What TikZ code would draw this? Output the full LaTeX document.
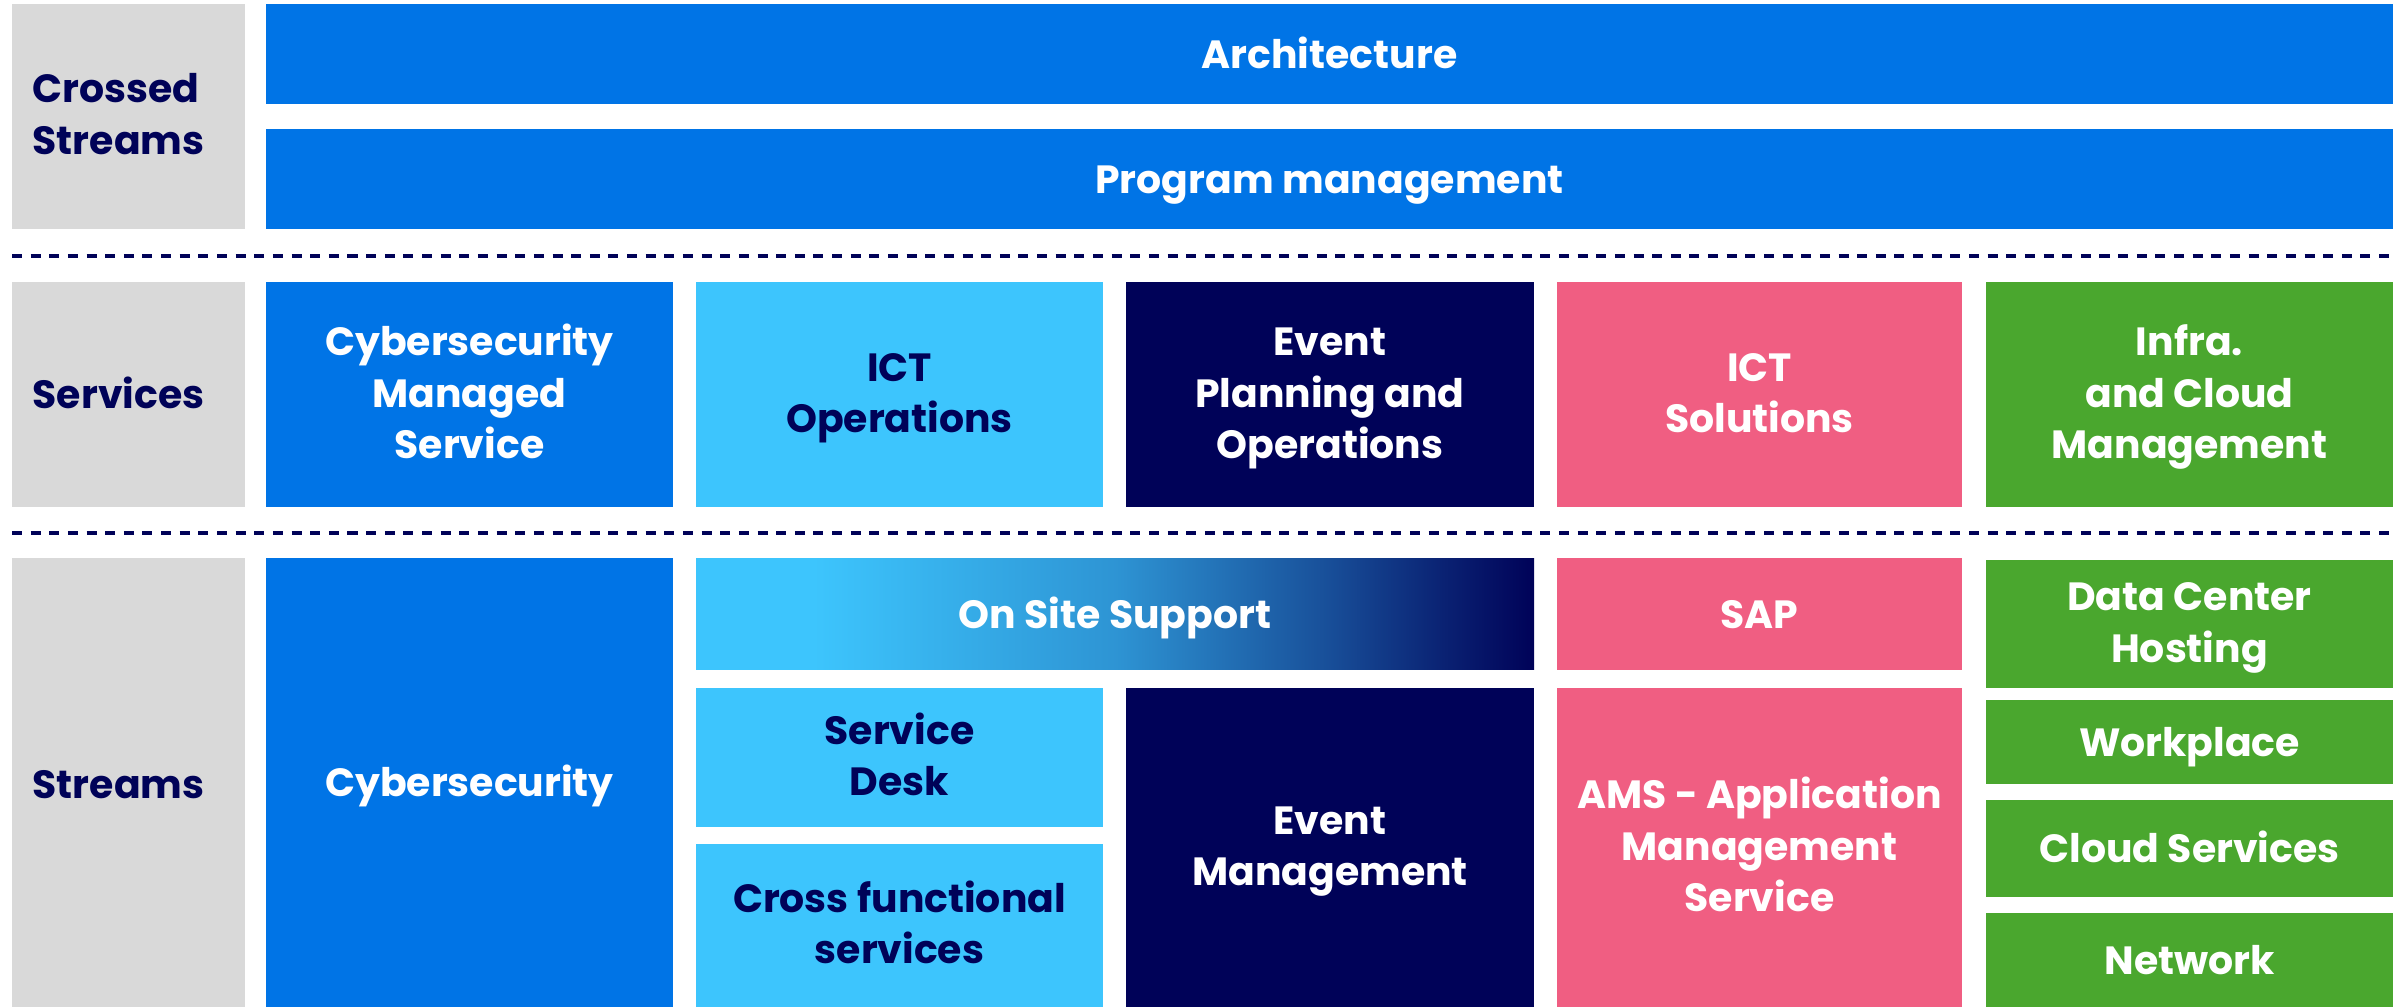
\documentclass[tikz,border=0pt]{standalone}
\usepackage{fontspec}
\setmainfont{Poppins}
\definecolor{cblue}{RGB}{0,116,230}
\definecolor{clight}{RGB}{61,197,253}
\definecolor{cnavy}{RGB}{0,2,88}
\definecolor{cpink}{RGB}{240,94,130}
\definecolor{cgreen}{RGB}{74,167,46}
\definecolor{cgray}{RGB}{217,217,217}
\colorlet{gmidA}{clight!75!cnavy}
\colorlet{gmidB}{clight!40!cnavy}
\colorlet{gmidC}{clight!15!cnavy}
\pgfdeclarehorizontalshading{ossgrad}{100bp}{color(0bp)=(clight); color(25bp)=(clight); color(32bp)=(clight); color(50bp)=(gmidA); color(62.5bp)=(gmidB); color(70bp)=(gmidC); color(75bp)=(cnavy); color(100bp)=(cnavy)}
\newcommand\mystrut{\rule[-0.34em]{0pt}{\dimexpr1.34em+0.6pt\relax}}
\newcommand\firstlinestrut{\rule[-0.34em]{0pt}{1.32em}}
\newcommand\lastlinestrut{\rule[-0.34em]{0pt}{1.34em}}
\newcommand\blk[7]{\node[tile,#6,minimum width={(#4-#2)*0.01cm},minimum height={(#5-#3)*0.01cm}] (#1) at ({(#2+#4)/2},{(#3+#5)/2}) {#7};}
\begin{document}
\begin{tikzpicture}[x=0.01cm,y=-0.01cm,
  tile/.style={inner sep=0pt,outer sep=0pt,draw=none,align=center,
    font=\fontsize{11.2}{14.6}\selectfont\bfseries,
    execute at begin node=\mystrut,execute at end node=\lastlinestrut},
  wt/.style={text=white},
  nt/.style={text=cnavy},
  lab/.style={anchor=west,align=left,inner sep=0pt,text=cnavy,
    font=\fontsize{11.2}{14.6}\selectfont\bfseries,
    execute at begin node=\mystrut,execute at end node=\lastlinestrut},
  sep/.style={draw=cnavy,line width=1pt,dash pattern=on 2.85pt off 2.45pt}]
\useasboundingbox (0,0) rectangle (2405,1007);
% gray label columns
\blk{g1}{12}{4}{245}{229}{fill=cgray}{}
\blk{g2}{12}{282}{245}{507}{fill=cgray}{}
\blk{g3}{12}{558}{245}{1007}{fill=cgray}{}
\node[lab] (l1) at (32,116) {\firstlinestrut Crossed\\Streams};
\node[lab] (l2) at (32,394) {Services};
\node[lab] (l3) at (32,784) {Streams};
% crossed streams
\blk{arch}{266}{4}{2393}{104}{fill=cblue,wt}{Architecture}
\blk{prog}{266}{129}{2393}{229}{fill=cblue,wt}{Program management}
% separators
\coordinate (s1a) at (12,256); \coordinate (s1b) at (2393,256);
\coordinate (s2a) at (12,533); \coordinate (s2b) at (2393,533);
\draw[sep] (s1a) -- (s1b);
\draw[sep] (s2a) -- (s2b);
% services
\blk{sv1}{266}{282}{673}{507}{fill=cblue,wt}{\firstlinestrut Cybersecurity\\Managed\\Service}
\blk{sv2}{696}{282}{1103}{507}{fill=clight,nt}{\firstlinestrut ICT\\Operations}
\blk{sv3}{1126}{282}{1534}{507}{fill=cnavy,wt}{\firstlinestrut Event\\Planning and\\Operations}
\blk{sv4}{1557}{282}{1962}{507}{fill=cpink,wt}{\firstlinestrut ICT\\Solutions}
\blk{sv5}{1986}{282}{2393}{507}{fill=cgreen,wt}{\firstlinestrut Infra.\\and Cloud\\Management}
% streams
\blk{st1}{266}{558}{673}{1007}{fill=cblue,wt}{Cybersecurity}
\blk{oss}{696}{559}{1534}{670}{shading=ossgrad,wt}{On Site Support}
\blk{sdk}{696}{688}{1103}{827}{fill=clight,nt}{\firstlinestrut Service\\Desk}
\blk{cfs}{696}{844}{1103}{1007}{fill=clight,nt}{\firstlinestrut Cross functional\\services}
\blk{evm}{1126}{688}{1534}{1007}{fill=cnavy,wt}{\firstlinestrut Event\\Management}
\blk{sap}{1557}{558}{1962}{670}{fill=cpink,wt}{SAP}
\blk{ams}{1557}{688}{1962}{1007}{fill=cpink,wt}{\firstlinestrut AMS - Application\\Management\\Service}
\blk{dch}{1986}{560}{2393}{688}{fill=cgreen,wt}{\firstlinestrut Data Center\\Hosting}
\blk{wkp}{1986}{700}{2393}{784}{fill=cgreen,wt}{Workplace}
\blk{cld}{1986}{800}{2393}{897}{fill=cgreen,wt}{Cloud Services}
\blk{net}{1986}{913}{2393}{1007}{fill=cgreen,wt}{Network}
\end{tikzpicture}
\end{document}
